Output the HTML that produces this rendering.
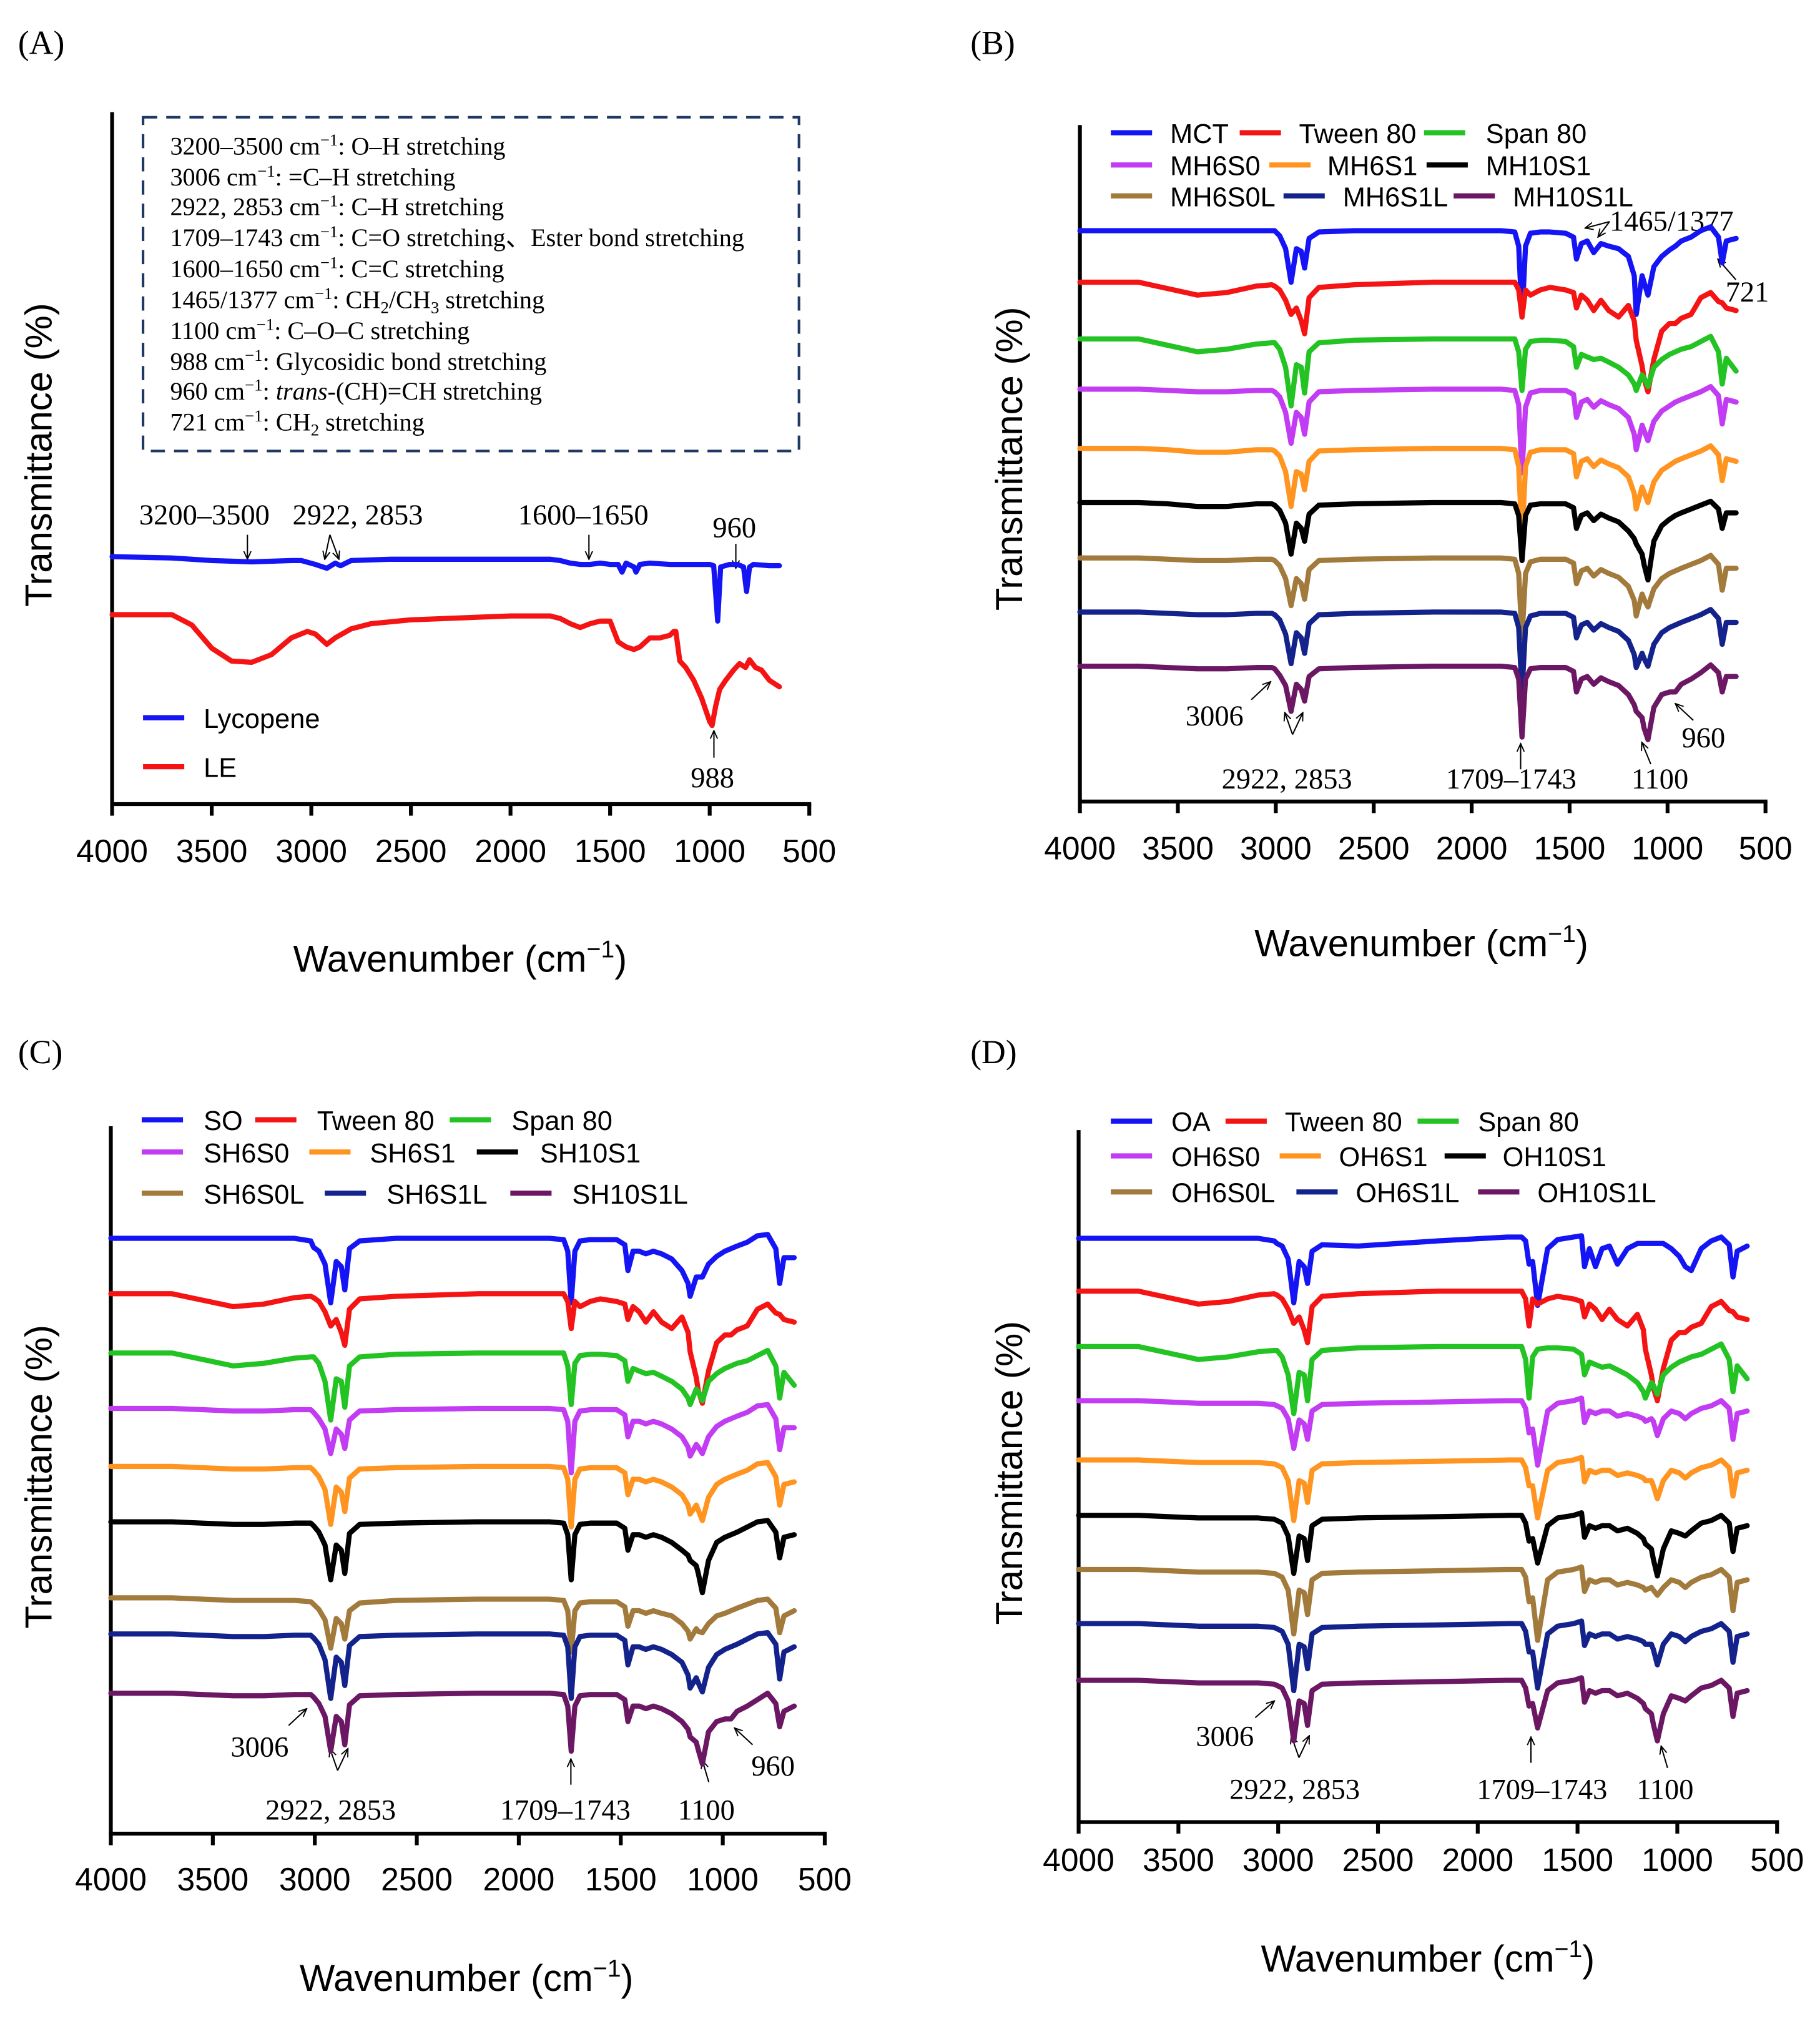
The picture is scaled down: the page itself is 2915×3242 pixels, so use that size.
<!DOCTYPE html>
<html><head><meta charset="utf-8"><title>FTIR spectra</title>
<style>
html,body{margin:0;padding:0;background:#fff;}
svg{display:block;}
.tick{font-family:"Liberation Sans",sans-serif;font-size:25px;fill:#000;text-anchor:middle;}
.ttl{font-family:"Liberation Sans",sans-serif;font-size:29px;fill:#000;text-anchor:middle;}
.leg{font-family:"Liberation Sans",sans-serif;font-size:21px;fill:#000;}
.ann{font-family:"Liberation Serif",serif;font-size:22.5px;fill:#000;}
.box{font-family:"Liberation Serif",serif;font-size:19.5px;fill:#000;}
.plab{font-family:"Liberation Serif",serif;font-size:26px;fill:#000;}
.arr{stroke:#000;stroke-width:1;fill:none;}
</style></head>
<body>
<svg id="fig" xmlns="http://www.w3.org/2000/svg" width="2915" height="3242" viewBox="0 0 1412.3 1570.7">
<defs>
<marker id="ah" viewBox="0 0 10 10" refX="9" refY="5" markerWidth="7" markerHeight="7" orient="auto-start-reverse"><path d="M0,1 L9,5 L0,9" fill="none" stroke="#000" stroke-width="1.3"/></marker>
</defs>
<rect width="1412.3" height="1570.7" fill="#fff"/>

<text class="plab" x="14" y="42">(A)</text>
<text class="plab" x="753" y="42">(B)</text>
<text class="plab" x="14" y="825">(C)</text>
<text class="plab" x="753" y="825">(D)</text>

<text class="ttl" transform="translate(40,353) rotate(-90)">Transmittance (%)</text>
<text class="ttl" transform="translate(793,356) rotate(-90)">Transmittance (%)</text>
<text class="ttl" transform="translate(40,1146) rotate(-90)">Transmittance (%)</text>
<text class="ttl" transform="translate(793,1143) rotate(-90)">Transmittance (%)</text>
<text class="ttl" x="357" y="754">Wavenumber (cm<tspan font-size="19" dy="-11">−1</tspan><tspan dy="11">)</tspan></text>
<text class="ttl" x="1103" y="742">Wavenumber (cm<tspan font-size="19" dy="-11">−1</tspan><tspan dy="11">)</tspan></text>
<text class="ttl" x="362" y="1545">Wavenumber (cm<tspan font-size="19" dy="-11">−1</tspan><tspan dy="11">)</tspan></text>
<text class="ttl" x="1108" y="1530">Wavenumber (cm<tspan font-size="19" dy="-11">−1</tspan><tspan dy="11">)</tspan></text>

<g>
<rect x="111" y="91" width="509" height="259" fill="none" stroke="#1f3864" stroke-width="2" stroke-dasharray="11,7"/>
<text class="box" x="132" y="120">3200–3500 cm<tspan font-size="13" dy="-7">−1</tspan><tspan dy="7">: O–H stretching</tspan></text>
<text class="box" x="132" y="144">3006 cm<tspan font-size="13" dy="-7">−1</tspan><tspan dy="7">: =C–H stretching</tspan></text>
<text class="box" x="132" y="167">2922, 2853 cm<tspan font-size="13" dy="-7">−1</tspan><tspan dy="7">: C–H stretching</tspan></text>
<text class="box" x="132" y="191">1709–1743 cm<tspan font-size="13" dy="-7">−1</tspan><tspan dy="7">: C=O stretching、Ester bond stretching</tspan></text>
<text class="box" x="132" y="215">1600–1650 cm<tspan font-size="13" dy="-7">−1</tspan><tspan dy="7">: C=C stretching</tspan></text>
<text class="box" x="132" y="239">1465/1377 cm<tspan font-size="13" dy="-7">−1</tspan><tspan dy="7">: CH</tspan><tspan font-size="13" dy="4">2</tspan><tspan dy="-4">/CH</tspan><tspan font-size="13" dy="4">3</tspan><tspan dy="-4"> stretching</tspan></text>
<text class="box" x="132" y="263">1100 cm<tspan font-size="13" dy="-7">−1</tspan><tspan dy="7">: C–O–C stretching</tspan></text>
<text class="box" x="132" y="287">988 cm<tspan font-size="13" dy="-7">−1</tspan><tspan dy="7">: Glycosidic  bond stretching</tspan></text>
<text class="box" x="132" y="310">960 cm<tspan font-size="13" dy="-7">−1</tspan><tspan dy="7">: </tspan><tspan font-style="italic">trans</tspan>-(CH)=CH stretching</text>
<text class="box" x="132" y="334">721 cm<tspan font-size="13" dy="-7">−1</tspan><tspan dy="7">: CH</tspan><tspan font-size="13" dy="4">2</tspan><tspan dy="-4"> stretching</tspan></text>
</g>

<g>
<text class="ann" x="108" y="407">3200–3500</text>
<text class="ann" x="227" y="407">2922, 2853</text>
<text class="ann" x="402" y="407">1600–1650</text>
<text class="ann" x="553" y="417">960</text>
<text class="ann" x="536" y="611">988</text>
<line class="arr" x1="192" y1="415" x2="192" y2="434" marker-end="url(#ah)"/>
<line class="arr" x1="256" y1="415" x2="252" y2="434" marker-end="url(#ah)"/>
<line class="arr" x1="256" y1="415" x2="263" y2="434" marker-end="url(#ah)"/>
<line class="arr" x1="457" y1="415" x2="457" y2="434" marker-end="url(#ah)"/>
<line class="arr" x1="571" y1="422" x2="571" y2="441" marker-end="url(#ah)"/>
<line class="arr" x1="554" y1="588" x2="554" y2="567" marker-end="url(#ah)"/>
</g>

<g>
<text class="ann" x="1249" y="179">1465/1377</text>
<line class="arr" x1="1249" y1="172" x2="1230" y2="177" marker-end="url(#ah)"/>
<line class="arr" x1="1249" y1="172" x2="1240" y2="184" marker-end="url(#ah)"/>
<text class="ann" x="1339" y="234">721</text>
<line class="arr" x1="1347" y1="217" x2="1333" y2="201" marker-end="url(#ah)"/>
<text class="ann" x="920" y="563">3006</text>
<line class="arr" x1="971" y1="543" x2="986" y2="529" marker-end="url(#ah)"/>
<line class="arr" x1="1003" y1="570" x2="997" y2="553" marker-end="url(#ah)"/>
<line class="arr" x1="1003" y1="570" x2="1011" y2="553" marker-end="url(#ah)"/>
<text class="ann" x="948" y="612">2922, 2853</text>
<text class="ann" x="1122" y="612">1709–1743</text>
<line class="arr" x1="1180" y1="597" x2="1180" y2="577" marker-end="url(#ah)"/>
<text class="ann" x="1266" y="612">1100</text>
<line class="arr" x1="1281" y1="593" x2="1274" y2="576" marker-end="url(#ah)"/>
<text class="ann" x="1305" y="580">960</text>
<line class="arr" x1="1314" y1="559" x2="1300" y2="546" marker-end="url(#ah)"/>
</g>

<g>
<text class="ann" x="179" y="1363">3006</text>
<line class="arr" x1="224" y1="1339" x2="238" y2="1326" marker-end="url(#ah)"/>
<line class="arr" x1="262" y1="1374" x2="256" y2="1357" marker-end="url(#ah)"/>
<line class="arr" x1="262" y1="1374" x2="270" y2="1357" marker-end="url(#ah)"/>
<text class="ann" x="206" y="1412">2922, 2853</text>
<text class="ann" x="388" y="1412">1709–1743</text>
<line class="arr" x1="443" y1="1385" x2="443" y2="1365" marker-end="url(#ah)"/>
<text class="ann" x="526" y="1412">1100</text>
<line class="arr" x1="550" y1="1383" x2="545" y2="1366" marker-end="url(#ah)"/>
<text class="ann" x="583" y="1378">960</text>
<line class="arr" x1="584" y1="1354" x2="570" y2="1341" marker-end="url(#ah)"/>
</g>

<g>
<text class="ann" x="928" y="1355">3006</text>
<line class="arr" x1="974" y1="1333" x2="989" y2="1320" marker-end="url(#ah)"/>
<line class="arr" x1="1008" y1="1364" x2="1002" y2="1347" marker-end="url(#ah)"/>
<line class="arr" x1="1008" y1="1364" x2="1016" y2="1347" marker-end="url(#ah)"/>
<text class="ann" x="954" y="1396">2922, 2853</text>
<text class="ann" x="1146" y="1396">1709–1743</text>
<line class="arr" x1="1188" y1="1368" x2="1188" y2="1348" marker-end="url(#ah)"/>
<text class="ann" x="1270" y="1396">1100</text>
<line class="arr" x1="1294" y1="1372" x2="1289" y2="1355" marker-end="url(#ah)"/>
</g>
</svg>

<script>
const xTicks = [4000,3500,3000,2500,2000,1500,1000,500];
const xTickLabels = ["4000","3500","3000","2500","2000","1500","1000","500"];

const lycWn = [4000,3700,3500,3300,3100,3050,2980,2922,2880,2853,2800,2600,2000,1800,1750,1700,1650,1600,1550,1500,1460,1440,1420,1380,1370,1350,1300,1200,1100,1000,980,960,945,900,860,830,815,800,780,700,650];
const lycDip = [0,1,3,4,3,3,6,9,5,7,3,2,2,2,3,5,6,6,5,6,6,12,5,8,12,6,5,6,6,6,7,50,8,6,6,8,27,8,6,7,7];
const leWn = [4000,3700,3600,3500,3400,3300,3200,3100,3020,2980,2922,2880,2800,2700,2500,2000,1800,1750,1700,1650,1600,1550,1500,1460,1420,1380,1350,1300,1250,1200,1180,1170,1150,1120,1080,1040,1000,988,970,950,920,880,850,820,800,770,740,700,680,650];
const leDip = [0,0,8,26,36,37,31,18,13,15,23,18,11,7,4,1,1,3,7,10,7,5,5,21,25,27,25,18,18,16,13,13,36,41,51,65,83,86,71,58,51,43,38,41,35,41,43,51,53,56];

const grid = [4000,3700,3550,3400,3250,3100,3020,3006,2980,2950,2922,2895,2870,2853,2830,2780,2600,2200,1850,1780,1760,1743,1725,1700,1650,1600,1520,1480,1465,1440,1410,1377,1340,1300,1250,1200,1170,1160,1130,1120,1100,1070,1030,990,960,930,880,830,780,740,721,700,650];

const tween = [0,0,5,10,8,3,2,3,6,14,25,20,30,40,12,4,2,0,0,0,6,27,6,10,6,4,6,8,20,10,14,22,14,22,27,18,30,45,65,75,85,60,38,32,32,28,25,12,8,15,16,20,22];
const span = [0,0,5,10,8,4,3,3,8,22,52,20,22,42,10,3,1,0,0,0,10,40,8,2,1,1,2,6,22,12,14,16,15,18,22,28,35,40,28,30,37,22,16,12,10,8,6,2,-2,10,35,15,25];

const mct     = [0,0,0,0,0,0,0,0,4,14,40,14,16,29,6,1,0,0,0,1,12,67,12,2,1,1,2,5,22,10,8,17,10,12,14,20,35,65,35,40,50,28,20,15,12,8,5,0,-3,5,25,8,6];
const mh6s0   = [0,0,1,2,2,1,1,2,6,18,42,18,22,35,10,2,1,0,0,1,12,65,14,3,1,1,1,4,22,10,8,14,9,12,15,22,35,47,28,32,40,25,17,13,10,8,5,2,-2,5,27,8,10];
const mh6s1   = [0,0,1,3,3,1,1,2,6,18,45,18,20,32,10,2,1,0,0,1,14,70,14,3,1,1,1,4,22,10,8,14,9,12,15,22,35,47,30,34,42,26,17,13,10,8,5,2,-2,5,25,8,10];
const mh10s1  = [0,0,1,3,3,1,1,2,6,16,40,16,20,30,9,2,1,0,0,1,10,45,10,2,1,1,1,4,20,10,8,14,9,12,15,22,28,32,40,48,60,30,18,13,10,8,5,2,-1,5,20,8,8];
const mh6s0l  = [0,0,1,2,2,1,1,2,6,16,37,16,20,32,9,2,1,0,0,1,12,62,12,3,1,1,1,4,20,10,8,14,9,12,15,22,33,45,28,32,38,24,16,12,10,8,5,2,-2,5,25,8,8];
const mh6s1l  = [0,0,1,2,2,1,1,2,6,17,40,16,20,32,9,2,1,0,0,1,12,62,12,3,1,1,1,4,20,10,8,14,9,12,15,22,33,43,32,36,42,25,16,12,10,8,5,2,-2,5,25,8,8];
const mh10s1l = [0,0,1,2,2,1,1,2,7,15,35,14,18,27,8,2,1,0,0,1,10,55,10,2,1,1,1,4,20,10,8,14,9,12,15,22,30,35,40,48,57,32,22,20,20,14,10,5,-1,5,20,8,8];

const so      = [0,0,0,0,0,0,2,7,10,20,50,18,22,40,8,2,0,0,0,1,10,50,10,2,1,1,1,5,25,10,10,12,10,12,16,25,35,45,30,30,30,20,14,10,8,6,3,-2,-3,8,35,15,15];
const sh6s0   = [0,0,1,2,2,1,1,3,8,16,35,16,20,31,9,2,1,0,0,1,10,50,10,2,1,1,1,5,22,10,10,12,10,12,16,22,30,37,28,30,35,22,14,10,8,6,3,-2,-3,8,32,15,15];
const sh6s1   = [0,0,1,2,2,1,1,3,8,18,45,16,20,35,9,2,1,0,0,1,10,47,10,2,1,1,1,5,22,10,10,12,10,12,16,22,30,37,30,34,42,24,14,10,8,6,3,-2,-3,8,30,14,12];
const sh10s1  = [0,0,1,2,2,1,1,3,8,18,45,18,22,40,9,2,1,0,0,1,10,45,10,2,1,1,1,5,22,10,10,12,10,12,16,22,26,30,34,40,55,30,16,12,10,8,4,0,-1,8,28,12,10];
const sh6s0l  = [-2,-2,-1,0,0,0,1,3,7,15,37,14,18,30,8,2,0,-1,-1,0,8,40,8,2,1,1,1,5,20,8,8,10,8,10,12,18,24,30,22,24,25,18,12,10,8,6,3,0,-1,6,25,12,8];
const sh6s1l  = [0,0,1,2,2,1,1,3,8,20,50,18,22,40,9,2,1,0,0,1,10,50,10,2,1,1,1,5,24,10,10,12,10,12,16,22,32,42,34,38,45,26,16,12,10,8,4,0,-1,8,35,14,10];
const sh10s1l = [0,0,1,2,2,1,1,3,8,18,45,18,22,40,9,2,1,0,0,1,10,45,10,2,1,1,1,5,22,10,10,12,10,12,16,22,28,34,38,44,55,30,22,20,20,14,10,5,0,8,26,14,10];

const oa      = [0,0,0,0,0,0,2,4,6,16,50,18,22,35,10,5,6,2,-1,-1,2,20,18,52,8,1,-1,-2,22,8,22,8,6,20,8,4,4,4,4,4,4,4,8,14,22,25,8,2,-1,5,30,10,6];
const oh6s0   = [0,0,1,2,2,2,3,4,6,14,37,15,18,30,8,3,2,1,0,0,6,25,22,50,8,2,0,-2,17,8,10,8,8,12,10,12,14,16,14,16,27,14,8,10,14,10,6,4,0,6,30,10,8];
const oh6s1   = [0,0,1,2,2,2,3,4,6,16,47,16,18,33,8,3,2,1,0,0,6,20,20,45,8,2,0,-2,17,8,10,8,8,12,10,12,14,16,16,20,30,16,8,10,14,10,6,4,0,6,28,10,8];
const oh10s1  = [0,0,1,2,2,2,3,4,6,16,45,16,18,35,8,3,2,1,0,0,6,20,18,37,8,2,0,-2,17,8,10,8,8,12,10,14,18,22,26,34,47,26,12,14,16,12,6,4,0,6,28,10,8];
const oh6s0l  = [0,0,1,2,2,2,3,4,6,16,50,16,18,35,8,3,2,1,0,0,6,25,22,55,8,2,0,-2,17,8,10,8,8,12,10,12,14,16,14,16,20,14,8,10,14,10,6,4,0,6,32,10,8];
const oh6s1l  = [0,0,1,2,2,2,3,4,6,16,52,16,18,35,8,3,2,1,0,0,6,22,22,50,8,2,0,-2,17,8,10,8,8,12,10,12,14,16,16,20,32,16,8,10,14,10,6,4,0,6,30,10,8];
const oh10s1l = [0,0,1,2,2,2,3,4,6,16,47,16,18,35,8,3,2,1,0,0,6,20,18,37,8,2,0,-2,17,8,10,8,8,12,10,14,18,22,26,34,47,26,12,14,16,12,6,4,0,6,28,10,8];

const NS = "http://www.w3.org/2000/svg";
const svg = document.getElementById('fig');
const COL = {blue:"#1414f5",red:"#f51414",green:"#22c322",purple:"#c13cf2",orange:"#ff9420",black:"#000000",brown:"#a17a3c",navy:"#14238c",plum:"#6b1763"};

function mk(tag, attrs, parent){
  const e = document.createElementNS(NS, tag);
  for (const k in attrs) e.setAttribute(k, attrs[k]);
  (parent||svg).appendChild(e);
  return e;
}
function xScale(p, w){ return p.x0 + (4000 - w) / 3500 * (p.x1 - p.x0); }
function yScale(base, v){ return base + v; }

function drawAxes(p, key){
  const g = mk('g', {});
  
  
  const ya = mk('line', {x1:p.x0, y1:p.yTop, x2:p.x0, y2:p.yBot+1.5, stroke:'#000','stroke-width':3}, g);
  
  
  const xa = mk('line', {x1:p.x0-1.5, y1:p.yBot, x2:p.x1+1.5, y2:p.yBot, stroke:'#000','stroke-width':3}, g);
  
  
  xTicks.forEach((t, i) => {
    const x = xScale(p, t);
    const tk = mk('line', {x1:x, y1:p.yBot, x2:x, y2:p.yBot+9, stroke:'#000','stroke-width':3}, g);
    
    
    const lb = mk('text', {x:x, y:p.tickY, class:'tick'}, g);
    lb.textContent = xTickLabels[i];
    
    
  });
}

function drawSeries(p, key, name, color, base, wn, vals){
  let d = '';
  for (let i = 0; i < vals.length; i++){
    d += (i ? 'L' : 'M') + xScale(p, wn[i]).toFixed(2) + ',' + yScale(base, vals[i]).toFixed(2);
  }
  const path = mk('path', {d:d, fill:'none', stroke:color, 'stroke-width':4, 'stroke-linejoin':'round', 'stroke-linecap':'round'});
  
  
}

function drawLegend(key, items){
  const g = mk('g', {});
  
  
  items.forEach(it => {
    const ln = mk('line', {x1:it.lx, y1:it.y, x2:it.lx+32, y2:it.y, stroke:it.c, 'stroke-width':4}, g);
    
    
    const tx = mk('text', {x:it.tx, y:it.y+8, class:'leg'}, g);
    tx.textContent = it.n;
    
    
  });
}

const PA = {x0:87, x1:628, yTop:87, yBot:624, tickY:669};
drawAxes(PA, 'a');
drawSeries(PA, 'a', 'Lycopene', COL.blue, 432, lycWn, lycDip);
drawSeries(PA, 'a', 'LE', COL.red, 477, leWn, leDip);
drawLegend('a', [
  {lx:111, tx:158, y:557, c:COL.blue, n:'Lycopene'},
  {lx:111, tx:158, y:595, c:COL.red, n:'LE'}
]);

function panel(p, key, series, legend){
  drawAxes(p, key);
  series.forEach(s => drawSeries(p, key, s[0], s[1], s[2], grid, s[3]));
  drawLegend(key, legend);
}

panel({x0:838, x1:1370, yTop:97, yBot:622, tickY:667}, 'b', [
  ['MCT', COL.blue, 179, mct], ['Tween 80', COL.red, 219, tween], ['Span 80', COL.green, 263, span],
  ['MH6S0', COL.purple, 302, mh6s0], ['MH6S1', COL.orange, 348, mh6s1], ['MH10S1', COL.black, 390, mh10s1],
  ['MH6S0L', COL.brown, 433, mh6s0l], ['MH6S1L', COL.navy, 475, mh6s1l], ['MH10S1L', COL.plum, 517, mh10s1l]
], [
  {lx:862, tx:908, y:103, c:COL.blue, n:'MCT'}, {lx:962, tx:1008, y:103, c:COL.red, n:'Tween 80'}, {lx:1105, tx:1153, y:103, c:COL.green, n:'Span 80'},
  {lx:862, tx:908, y:128, c:COL.purple, n:'MH6S0'}, {lx:985, tx:1030, y:128, c:COL.orange, n:'MH6S1'}, {lx:1107, tx:1153, y:128, c:COL.black, n:'MH10S1'},
  {lx:862, tx:908, y:152, c:COL.brown, n:'MH6S0L'}, {lx:996, tx:1042, y:152, c:COL.navy, n:'MH6S1L'}, {lx:1128, tx:1174, y:152, c:COL.plum, n:'MH10S1L'}
]);

panel({x0:86, x1:640, yTop:874, yBot:1423, tickY:1467}, 'c', [
  ['SO', COL.blue, 961, so], ['Tween 80', COL.red, 1004, tween], ['Span 80', COL.green, 1050, span],
  ['SH6S0', COL.purple, 1093, sh6s0], ['SH6S1', COL.orange, 1138, sh6s1], ['SH10S1', COL.black, 1181, sh10s1],
  ['SH6S0L', COL.brown, 1242, sh6s0l], ['SH6S1L', COL.navy, 1268, sh6s1l], ['SH10S1L', COL.plum, 1314, sh10s1l]
], [
  {lx:110, tx:158, y:869, c:COL.blue, n:'SO'}, {lx:198, tx:246, y:869, c:COL.red, n:'Tween 80'}, {lx:349, tx:397, y:869, c:COL.green, n:'Span 80'},
  {lx:110, tx:158, y:894, c:COL.purple, n:'SH6S0'}, {lx:240, tx:287, y:894, c:COL.orange, n:'SH6S1'}, {lx:370, tx:419, y:894, c:COL.black, n:'SH10S1'},
  {lx:110, tx:158, y:926, c:COL.brown, n:'SH6S0L'}, {lx:252, tx:300, y:926, c:COL.navy, n:'SH6S1L'}, {lx:396, tx:444, y:926, c:COL.plum, n:'SH10S1L'}
]);

panel({x0:837, x1:1379, yTop:877, yBot:1414, tickY:1452}, 'd', [
  ['OA', COL.blue, 961, oa], ['Tween 80', COL.red, 1002, tween], ['Span 80', COL.green, 1045, span],
  ['OH6S0', COL.purple, 1087, oh6s0], ['OH6S1', COL.orange, 1133, oh6s1], ['OH10S1', COL.black, 1176, oh10s1],
  ['OH6S0L', COL.brown, 1218, oh6s0l], ['OH6S1L', COL.navy, 1260, oh6s1l], ['OH10S1L', COL.plum, 1304, oh10s1l]
], [
  {lx:862, tx:909, y:870, c:COL.blue, n:'OA'}, {lx:951, tx:997, y:870, c:COL.red, n:'Tween 80'}, {lx:1100, tx:1147, y:870, c:COL.green, n:'Span 80'},
  {lx:862, tx:909, y:897, c:COL.purple, n:'OH6S0'}, {lx:993, tx:1039, y:897, c:COL.orange, n:'OH6S1'}, {lx:1121, tx:1166, y:897, c:COL.black, n:'OH10S1'},
  {lx:862, tx:909, y:925, c:COL.brown, n:'OH6S0L'}, {lx:1006, tx:1052, y:925, c:COL.navy, n:'OH6S1L'}, {lx:1147, tx:1193, y:925, c:COL.plum, n:'OH10S1L'}
]);
</script>
</body></html>
